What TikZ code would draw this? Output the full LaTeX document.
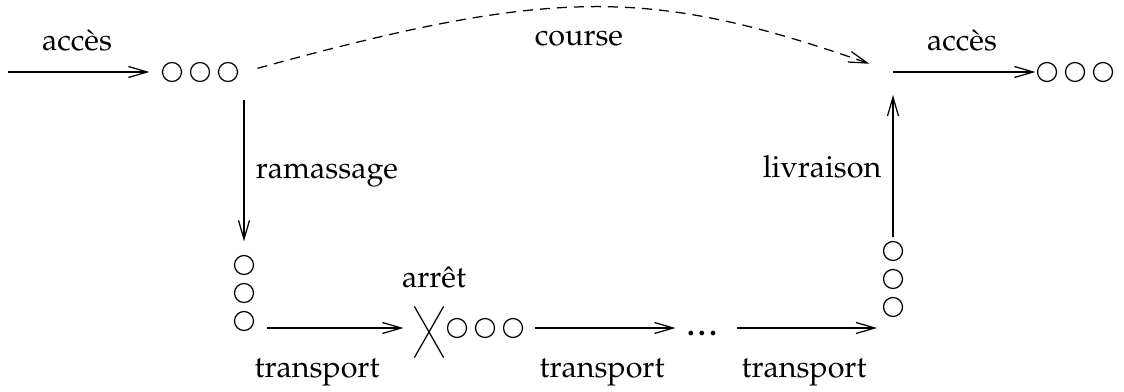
\documentclass[tikz,border=0pt]{standalone}
\usepackage[T1]{fontenc}
\usepackage{mathpazo}
\usetikzlibrary{arrows.meta,shapes.misc}
\begin{document}
\begin{tikzpicture}[x=0.4pt,y=-0.4pt,line width=0.5pt,
  dot/.style={circle,draw,minimum size=7.6pt,inner sep=0pt},
  arr/.style={-{Straight Barb[length=7.5pt,width=4.4pt]}},
  lbl/.style={anchor=base,inner sep=0pt,font=\fontsize{12.2}{14}\selectfont}]
\useasboundingbox (0,0) rectangle (1124,392);
% junction points
\coordinate (in) at (8,72);
\coordinate (TL) at (244,72);
\coordinate (TR) at (893,72);
\coordinate (BR) at (893,328);
% top left queue
\node[dot] (a1) at (172,72) {};
\node[dot] (a2) at (200,72) {};
\node[dot] (a3) at (228,72) {};
% top right queue
\node[dot] (b1) at (1047,72) {};
\node[dot] (b2) at (1075,72) {};
\node[dot] (b3) at (1103,72) {};
% left vertical queue
\node[dot] (l1) at (244,265) {};
\node[dot] (l2) at (244,293) {};
\node[dot] (l3) at (244,321) {};
% stop
\node[draw,cross out,minimum width=11.2pt,minimum height=20pt,inner sep=0pt] (stop) at (429,332) {};
\node[dot] (m1) at (457,328) {};
\node[dot] (m2) at (485,328) {};
\node[dot] (m3) at (513,328) {};
\node[inner sep=0pt,font=\fontsize{12.2}{14}\selectfont\bfseries] (dots) at (702,334) {.\kern1.4pt.\kern1.4pt.};
% right vertical queue
\node[dot] (r1) at (893,251) {};
\node[dot] (r2) at (893,279) {};
\node[dot] (r3) at (893,307) {};
% connectors
\draw[arr,shorten >=5pt] (in) -- (a1);
\draw[arr,dash pattern=on 4pt off 2.8pt,shorten <=5.6pt,shorten >=10pt] (TL) .. controls (554,-13) and (650,-13) .. (TR);
\draw[arr,shorten <=11.2pt,shorten >=5.4pt] (TL) -- (l1);
\draw[arr,shorten <=1.4pt,shorten >=9.2pt] (r1) -- (TR);
\draw[arr,shorten >=0.6pt] (TR) -- (b1);
\draw[arr,shorten <=5pt,shorten >=4.4pt] (l3.east |- m1) -- (stop.west |- m1);
\draw[arr,shorten <=4.6pt,shorten >=4.4pt] (m3) -- (dots.west |- m3);
\draw[arr,shorten <=7.6pt,shorten >=6.4pt] (dots.east |- m3) -- (BR);
% labels
\node[lbl] (acc1) at (77,51) {acc\`es};
\node[lbl] (acc2) at (962,51) {acc\`es};
\node[lbl] (crs) at (579,46) {course};
\node[lbl] (ram) at (327,179) {ramassage};
\node[lbl] (liv) at (822,178) {livraison};
\node[lbl] (arr) at (434,287) {arr\^et};
\node[lbl] (tr1) at (317,377) {transport};
\node[lbl] (tr2) at (602,377) {transport};
\node[lbl] (tr3) at (804,377) {transport};
\end{tikzpicture}
\end{document}
